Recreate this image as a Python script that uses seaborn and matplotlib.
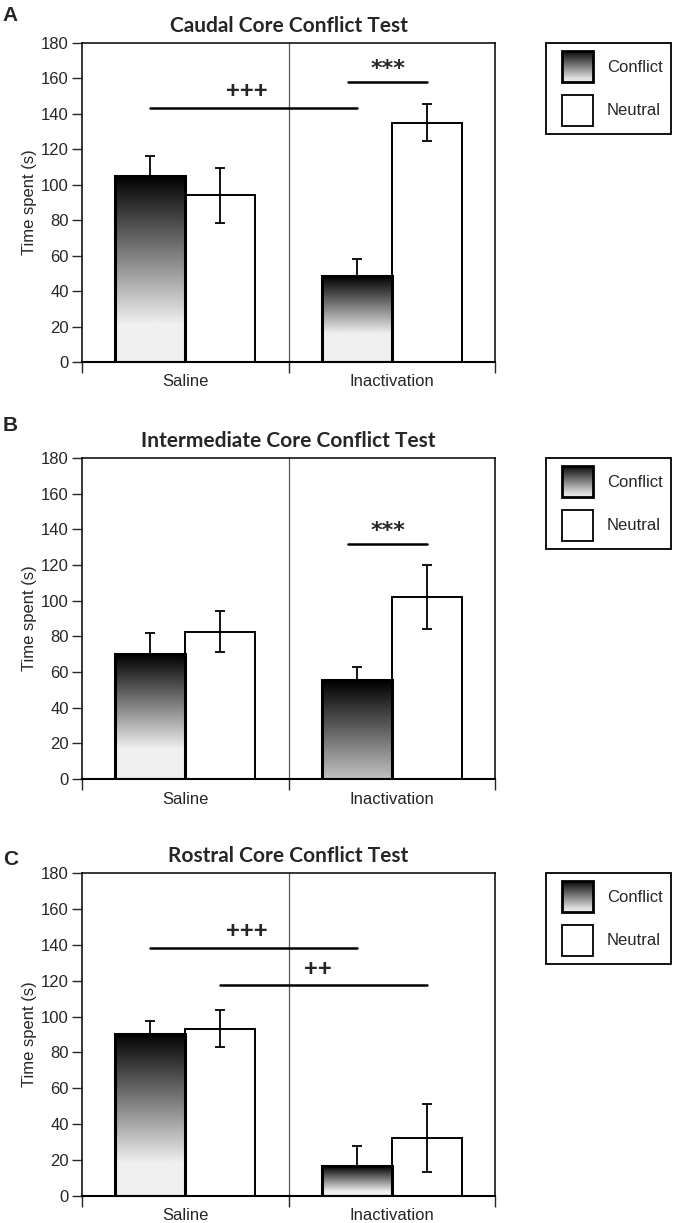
import numpy as np
import pandas as pd
import seaborn as sns
import matplotlib.pyplot as plt
from matplotlib.patches import Rectangle
from matplotlib.legend_handler import HandlerBase

conditions = ['Saline', 'Inactivation']
groups = ['Conflict', 'Neutral']
titles = ['Caudal Core Conflict Test', 'Intermediate Core Conflict Test', 'Rostral Core Conflict Test']
letters = ['A', 'B', 'C']

# mean time spent (s) and SEM, order: Saline-Conflict, Saline-Neutral, Inactivation-Conflict, Inactivation-Neutral
caudal_mean = [105, 94, 48.3, 135]
caudal_sem = [11.4, 15.7, 10.0, 10.3]
intermediate_mean = [70, 82.7, 55.5, 102]
intermediate_sem = [11.6, 11.7, 7.2, 18]
rostral_mean = [90.4, 93.2, 16.7, 32.5]
rostral_sem = [6.9, 10.2, 11.3, 19]

# significance bars: (condition, group) from, (condition, group) to, height, label
caudal_sig = [(('Saline', 'Conflict'), ('Inactivation', 'Conflict'), 143.5, '+++'),
              (('Inactivation', 'Conflict'), ('Inactivation', 'Neutral'), 158, '***')]
intermediate_sig = [(('Inactivation', 'Conflict'), ('Inactivation', 'Neutral'), 132, '***')]
rostral_sig = [(('Saline', 'Conflict'), ('Inactivation', 'Conflict'), 138.3, '+++'),
               (('Saline', 'Neutral'), ('Inactivation', 'Neutral'), 117.4, '++')]

means = [caudal_mean, intermediate_mean, rostral_mean]
sems = [caudal_sem, intermediate_sem, rostral_sem]
sigs = [caudal_sig, intermediate_sig, rostral_sig]

sns.set_style('ticks')
plt.rcParams['font.family'] = ['Liberation Sans', 'DejaVu Sans']


def gradient_column(light=0.94, f0=0.22, n=300):
    # black at the top fading to light grey, flat light part near the bottom
    f = np.linspace(0, 1, n)
    g = np.where(f < f0, light, light * (1 - (f - f0) / (1 - f0)))
    return g[:, None]


class BoxHandler(HandlerBase):
    # square legend key drawn a little inset from the left of the handle box
    def __init__(self, gradient=False):
        super().__init__()
        self.gradient = gradient

    def create_artists(self, legend, orig_handle, xdescent, ydescent, width, height, fontsize, trans):
        arts = []
        inset = 0.2 * width
        x0, y0 = -xdescent + inset, -ydescent
        w = width - inset
        if self.gradient:
            n = 30
            for i in range(n):
                g = 0.9 * (i / (n - 1)) + 0.04
                arts.append(Rectangle((x0, y0 + height * (n - 1 - i) / n), w, height / n + 0.3,
                                      facecolor=str(g), edgecolor='none', transform=trans))
            arts.append(Rectangle((x0, y0), w, height, facecolor='none',
                                  edgecolor='black', lw=2, transform=trans))
        else:
            arts.append(Rectangle((x0, y0), w, height, facecolor='white',
                                  edgecolor='black', lw=1.3, transform=trans))
        return arts


# per-panel gradient ends for the conflict bars (light level, flat fraction)
grad_style = [[(0.94, 0.2), (0.94, 0.33)], [(0.94, 0.24), (0.76, 0.0)], [(0.94, 0.2), (0.94, 0.15)]]

fig = plt.figure(figsize=(6.82, 12.23), dpi=100)
H = 1223
boxes = [(43, 362), (458, 779), (873, 1196)]
letter_tops = [6, 416, 850]

for k in range(3):
    top, bot = boxes[k]
    ax = fig.add_axes([82 / 682, 1 - bot / H, (495 - 82) / 682, (bot - top) / H])
    df = pd.DataFrame({'condition': [c for c in conditions for g in groups],
                       'group': [g for c in conditions for g in groups],
                       'time': means[k], 'err': sems[k]})
    sns.barplot(data=df, x='condition', y='time', hue='group', order=conditions,
                hue_order=groups, palette={'Conflict': '0.5', 'Neutral': 'white'},
                width=0.68, saturation=1, edgecolor='black', linewidth=1.4,
                errorbar=None, legend=False, ax=ax)

    centers = {}
    bar_conts = list(ax.containers)
    for gi, cont in enumerate(bar_conts):
        for ci, p in enumerate(cont.patches):
            xc = p.get_x() + p.get_width() / 2
            centers[(conditions[ci], groups[gi])] = (xc, p.get_height())
            row = df[(df.condition == conditions[ci]) & (df.group == groups[gi])].iloc[0]
            ax.errorbar(xc, row['time'], yerr=row['err'], fmt='none', ecolor='black',
                        elinewidth=1.3, capsize=3.8, capthick=1.3, zorder=1.5)
            if groups[gi] == 'Conflict':
                light, f0 = grad_style[k][ci]
                p.set_facecolor('none')
                p.set_zorder(2.5)
                p.set_linewidth(2.2)
                ax.imshow(gradient_column(light, f0), cmap='gray', vmin=0, vmax=1,
                          origin='lower', aspect='auto', interpolation='bilinear',
                          extent=[p.get_x(), p.get_x() + p.get_width(), 0, p.get_height()],
                          zorder=2)

    for a, b, y, lab in sigs[k]:
        x1, x2 = centers[a][0], centers[b][0]
        if '*' in lab:
            x1 -= 0.04
        ax.plot([x1, x2], [y, y], color='black', lw=1.8, zorder=3)
        if '*' in lab:
            ax.text((x1 + x2) / 2, y + 1.5, lab, ha='center', va='bottom', fontsize=16,
                    family='DejaVu Sans', fontweight='bold')
        else:
            ax.text((x1 + x2) / 2 - 0.03, y + 2.5, lab, ha='center', va='bottom', fontsize=17,
                    fontweight='bold')

    ax.axvline(0.5, color='0.35', lw=0.9, zorder=0.5)
    ax.set_xlim(-0.5, 1.5)
    ax.set_ylim(0, 180)
    ax.set_yticks(range(0, 181, 20))
    ax.set_xticks([0, 1])
    ax.set_xticklabels(conditions)
    ax.set_xticks([-0.5, 0.5, 1.5], minor=True)
    ax.tick_params(axis='x', which='major', length=0, pad=9, labelsize=12)
    ax.tick_params(axis='x', which='minor', length=8, width=1, direction='out')
    ax.tick_params(axis='y', length=7, width=1, pad=2.5, labelsize=12)
    ax.set_xlabel('')
    ax.set_ylabel('Time spent (s)', fontsize=12, labelpad=3)
    for s in ax.spines.values():
        s.set_visible(True)
        s.set_linewidth(1.1)
        s.set_color('black')
    ax.spines['bottom'].set_linewidth(1.5)
    ax.set_title(titles[k], fontsize=15, fontweight='bold', family='Lato', pad=8)

    conflict_proxy = Rectangle((0, 0), 1, 1)
    neutral_proxy = Rectangle((0, 0), 1, 1)
    leg = ax.legend(handles=[conflict_proxy, neutral_proxy], labels=groups,
                    handler_map={conflict_proxy: BoxHandler(True), neutral_proxy: BoxHandler(False)},
                    loc='upper left', bbox_to_anchor=(1.1235, 1.0), borderaxespad=0,
                    frameon=True, fancybox=False, edgecolor='black', framealpha=1,
                    fontsize=12, handlelength=2.34, handleheight=2.45, labelspacing=0.78,
                    handletextpad=0.8, borderpad=0.5)
    leg.get_frame().set_linewidth(1.3)

    fig.text(0.004, 1 - letter_tops[k] / H, letters[k], fontsize=15, fontweight='bold',
             va='top', ha='left')

fig.savefig('out.png', dpi=100)
